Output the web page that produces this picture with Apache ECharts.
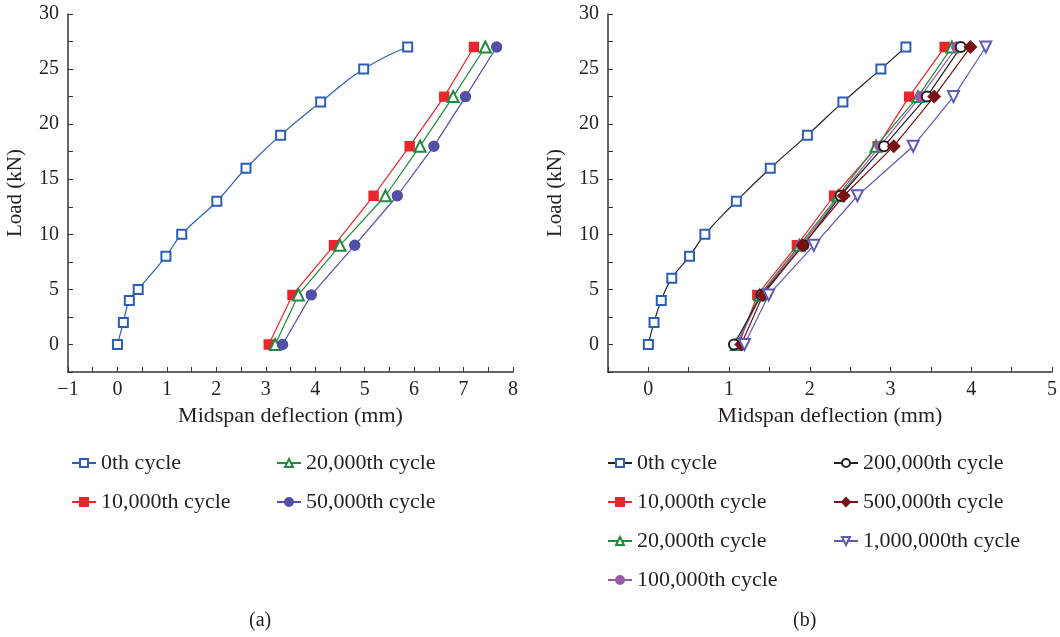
<!DOCTYPE html>
<html>
<head>
<meta charset="utf-8">
<title>Load - deflection</title>
<script src="https://cdn.jsdelivr.net/npm/echarts@6/dist/echarts.min.js"></script>
<style>
  html, body { margin: 0; padding: 0; background: #fff; }
  #chart { width: 1060px; height: 637px; }
</style>
</head>
<body>
<div id="chart"></div>
<script>
// loads (kN)
var loadA0 = [0, 2, 4, 5, 8, 10, 13, 16, 19, 22, 25, 27];
var loadB0 = [0, 2, 4, 6, 8, 10, 13, 16, 19, 22, 25, 27];
var loadCyc = [0, 4.5, 9, 13.5, 18, 22.5, 27];

// (a) midspan deflection (mm)
var a0 = [0, 0.12, 0.24, 0.42, 0.98, 1.30, 2.01, 2.60, 3.30, 4.11, 4.98, 5.87];
var a10k = [3.06, 3.54, 4.38, 5.18, 5.91, 6.61, 7.21];
var a20k = [3.19, 3.66, 4.50, 5.42, 6.12, 6.79, 7.44];
var a50k = [3.34, 3.92, 4.80, 5.66, 6.40, 7.04, 7.67];

// (b) midspan deflection (mm)
var b0 = [0, 0.07, 0.16, 0.29, 0.51, 0.70, 1.09, 1.51, 1.97, 2.41, 2.88, 3.19];
var b10k = [1.12, 1.35, 1.84, 2.30, 2.84, 3.23, 3.67];
var b20k = [1.09, 1.38, 1.87, 2.35, 2.82, 3.34, 3.76];
var b100k = [1.10, 1.39, 1.89, 2.37, 2.87, 3.37, 3.82];
var b200k = [1.06, 1.40, 1.92, 2.38, 2.92, 3.45, 3.87];
var b500k = [1.15, 1.42, 1.91, 2.42, 3.04, 3.54, 3.99];
var b1m = [1.19, 1.49, 2.05, 2.59, 3.28, 3.78, 4.18];

var namesA = ["0th cycle", "10,000th cycle", "20,000th cycle", "50,000th cycle"];
// trailing space keeps the (b) legend icon separate from the (a) one
var namesB = ["0th cycle ", "10,000th cycle", "20,000th cycle", "100,000th cycle",
              "200,000th cycle", "500,000th cycle", "1,000,000th cycle"];

var FONT = "Liberation Serif";
var TXT = "#231f20";
var AX = "#333";

function pairs(defl, load) {
  return defl.map(function (d, i) { return [d, load[i]]; });
}

function line(name, idx, defl, load, color, symbol, extra) {
  var s = {
    name: name,
    type: "line",
    xAxisIndex: idx,
    yAxisIndex: idx,
    data: pairs(defl, load),
    symbol: symbol,
    symbolSize: 9,
    lineStyle: { color: color, width: 1.2 },
    itemStyle: { color: color, borderColor: color, borderWidth: 1.4 },
    animation: false
  };
  return Object.assign(s, extra || {});
}

function xAx(idx, min, max) {
  return {
    type: "value", gridIndex: idx, min: min, max: max, interval: 0.5,
    name: "Midspan deflection (mm)", nameLocation: "middle", nameGap: 32,
    nameTextStyle: { fontFamily: FONT, fontSize: 22, color: TXT },
    axisLine: { onZero: false, lineStyle: { color: AX, width: 1.5 } },
    axisTick: { inside: true, length: 5, lineStyle: { color: AX } },
    axisLabel: {
      fontFamily: FONT, fontSize: 20, color: TXT, margin: 8, showMaxLabel: true, showMinLabel: true,
      formatter: function (v) {
        if (Math.abs(v - Math.round(v)) > 1e-6) return "";
        return v < 0 ? "\u2212" + Math.abs(v) : String(v);
      }
    },
    splitLine: { show: false }
  };
}

function yAx(idx) {
  return {
    type: "value", gridIndex: idx, min: -2.5, max: 30, interval: 2.5,
    name: "Load (kN)", nameLocation: "middle", nameGap: 42,
    nameTextStyle: { fontFamily: FONT, fontSize: 21, color: TXT },
    axisLine: { show: true, onZero: false, lineStyle: { color: AX, width: 1.5 } },
    axisTick: { show: true, inside: true, length: 5, lineStyle: { color: AX } },
    axisLabel: {
      fontFamily: FONT, fontSize: 20, color: TXT, margin: 9,
      formatter: function (v) { return v % 5 === 0 ? String(v) : ""; }
    },
    splitLine: { show: false }
  };
}

// one legend block per item, column-major like the original
function legends(names, rows, colX, top0) {
  return names.map(function (n, i) {
    return {
      data: [n],
      left: colX[Math.floor(i / rows)],
      top: top0 + (i % rows) * 39,
      padding: 0,
      itemWidth: 24,
      itemHeight: 10,
      selectedMode: false,
      textStyle: { fontFamily: FONT, fontSize: 22, color: TXT }
    };
  });
}

var chart = echarts.init(document.getElementById("chart"));

chart.setOption({
  backgroundColor: "#fff",
  grid: [
    { left: 68, right: 547, top: 14, bottom: 265 },
    { left: 608, right: 8, top: 14, bottom: 265 }
  ],
  xAxis: [xAx(0, -1, 8), xAx(1, -0.5, 5)],
  yAxis: [yAx(0), yAx(1)],
  legend: legends(namesA, 2, [71, 276], 452).concat(legends(namesB, 4, [607, 833], 452)),
  graphic: [
    { type: "text", left: 249, top: 611, style: { text: "(a)", font: "20px " + FONT, fill: TXT } },
    { type: "text", left: 793, top: 611, style: { text: "(b)", font: "20px " + FONT, fill: TXT } }
  ],
  series: [
    line(namesA[0], 0, a0, loadA0, "#2b5fb4", "emptyRect", { smooth: 0.5 }),
    line(namesA[1], 0, a10k, loadCyc, "#e8262b", "rect"),
    line(namesA[2], 0, a20k, loadCyc, "#1e8c3c", "emptyTriangle", { symbolSize: 11 }),
    line(namesA[3], 0, a50k, loadCyc, "#5250a6", "circle", { symbolSize: 10 }),

    line(namesB[0], 1, b0, loadB0, "#2b5fb4", "emptyRect", {
      smooth: 0.5, lineStyle: { color: "#222", width: 1.2 }
    }),
    line(namesB[1], 1, b10k, loadCyc, "#e8262b", "rect"),
    line(namesB[2], 1, b20k, loadCyc, "#1e8c3c", "emptyTriangle", { symbolSize: 11 }),
    line(namesB[3], 1, b100k, loadCyc, "#9b5aa8", "circle", { symbolSize: 10 }),
    line(namesB[4], 1, b200k, loadCyc, "#222", "emptyCircle", { symbolSize: 10 }),
    line(namesB[5], 1, b500k, loadCyc, "#7b1113", "diamond", { symbolSize: 12 }),
    line(namesB[6], 1, b1m, loadCyc, "#5c5cb0", "emptyTriangle", { symbolSize: 11, symbolRotate: 180 })
  ]
});
</script>
</body>
</html>
